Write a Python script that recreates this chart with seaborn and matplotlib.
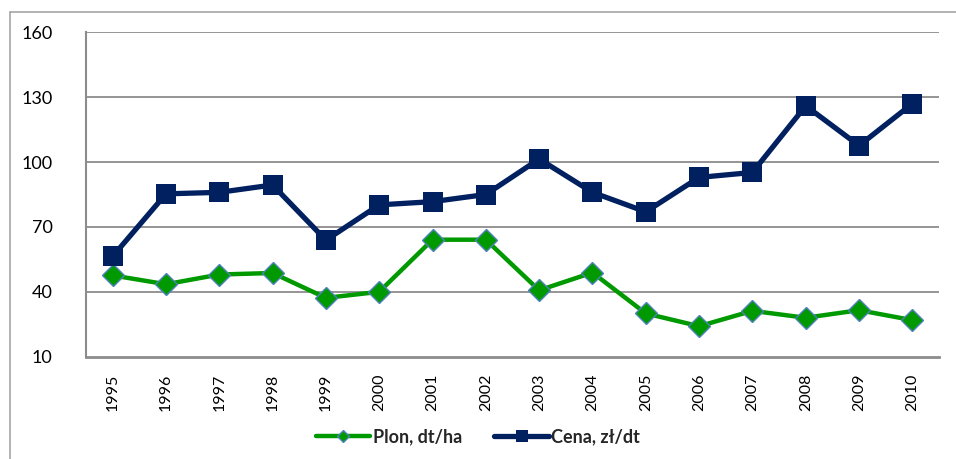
import matplotlib
matplotlib.use("Agg")
import matplotlib.pyplot as plt
from matplotlib.lines import Line2D
import seaborn as sns
import pandas as pd

years = ["1995", "1996", "1997", "1998", "1999", "2000", "2001", "2002",
         "2003", "2004", "2005", "2006", "2007", "2008", "2009", "2010"]
plon = [47.6, 43.5, 48.0, 48.7, 37.2, 40.0, 64.1, 64.1,
        40.7, 48.9, 30.0, 24.1, 31.2, 28.0, 31.5, 26.9]
cena = [56.4, 85.3, 86.0, 89.4, 63.9, 80.2, 81.7, 85.0,
        101.4, 86.0, 77.0, 92.9, 95.2, 126.0, 107.6, 127.0]
y_ticks = [10, 40, 70, 100, 130, 160]
label_plon = "Plon, dt/ha"
label_cena = "Cena, zł/dt"

sns.set_theme(style="white")
plt.rcParams['font.family'] = ['Lato', 'DejaVu Sans']

df = pd.DataFrame({"rok": years, "plon": plon, "cena": cena})

fig = plt.figure(figsize=(9.56, 4.59), dpi=100)
ax = fig.add_axes([86/956, 1-356.7/459, (939-86)/956, (356.7-32.3)/459])

grid_c = "#8c8c8c"
sns.lineplot(data=df, x="rok", y="plon", ax=ax, color="#009900", linewidth=3.2,
             marker="D", markersize=11, markerfacecolor="#009900",
             markeredgecolor="#4f81bd", markeredgewidth=1.0,
             label=label_plon, zorder=3, sort=False)
sns.lineplot(data=df, x="rok", y="cena", ax=ax, color="#002060", linewidth=3.8,
             marker="s", markersize=14, markerfacecolor="#002060",
             markeredgecolor="#002060", markeredgewidth=0,
             label=label_cena, zorder=4, sort=False)

ax.set_xlim(-0.5, len(years) - 0.5)
ax.set_ylim(10, 160)
ax.set_yticks(y_ticks)
ax.set_yticklabels([str(v) for v in y_ticks], fontsize=13)
ax.set_xticks(range(len(years)))
ax.set_xticklabels(years, rotation=90, fontsize=11.5)
ax.tick_params(axis="y", length=0, pad=24, colors="black")
ax.tick_params(axis="x", length=0, pad=12, colors="black")
ax.set_xlabel("")
ax.set_ylabel("")
for v in y_ticks[1:]:
    ax.axhline(v, color=grid_c, linewidth=1.3, zorder=1)
ax.spines["top"].set_visible(False)
ax.spines["right"].set_visible(False)
ax.spines["left"].set_color(grid_c)
ax.spines["left"].set_linewidth(1.5)
ax.spines["bottom"].set_color(grid_c)
ax.spines["bottom"].set_linewidth(2.0)

leg = ax.legend(loc="center", bbox_to_anchor=(0.5, (459-437)/459), bbox_transform=fig.transFigure,
                ncol=2, frameon=False, prop={"weight": "bold", "size": 13},
                handlelength=3.0, columnspacing=1.8, handletextpad=0.15, markerscale=0.6)

fig.add_artist(Line2D([10/956, 10/956], [0, 1-12/459], transform=fig.transFigure,
                      color="#a6a6a6", linewidth=1.2))
fig.add_artist(Line2D([10/956, 1], [1-12/459, 1-12/459], transform=fig.transFigure,
                      color="#a6a6a6", linewidth=1.2))

fig.savefig("out.png", dpi=100, facecolor="white")
